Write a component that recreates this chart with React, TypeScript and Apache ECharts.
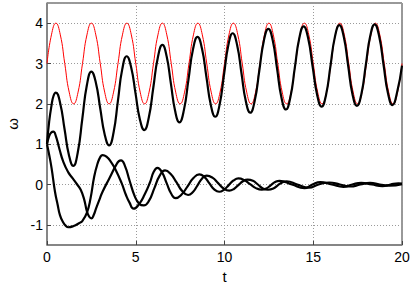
import React, { useEffect, useRef } from "react";
import * as echarts from "echarts";

// Driving signal (red), read at every 0.25 time unit from t = 0 to t = 20
const T_STEP = 0.25;
const redOmega = [
  3, 3.71, 4, 3.71, 3, 2.29, 2, 2.29,
  3, 3.71, 4, 3.71, 3, 2.29, 2, 2.29,
  3, 3.71, 4, 3.71, 3, 2.29, 2, 2.29,
  3, 3.71, 4, 3.71, 3, 2.29, 2, 2.29,
  3, 3.71, 4, 3.71, 3, 2.29, 2, 2.29,
  3, 3.71, 4, 3.71, 3, 2.29, 2, 2.29,
  3, 3.71, 4, 3.71, 3, 2.29, 2, 2.29,
  3, 3.71, 4, 3.71, 3, 2.29, 2, 2.29,
  3, 3.71, 4, 3.71, 3, 2.29, 2, 2.29,
  3, 3.71, 4, 3.71, 3, 2.29, 2, 2.29,
  3,
];

// Oscillator that locks onto the drive: [t, omega]
const lockedOmega: [number, number][] = [
  [0, 1.0], [0.12, 1.55], [0.25, 1.95], [0.37, 2.2], [0.5, 2.28],
  [0.745, 2.01], [0.99, 1.37], [1.235, 0.73], [1.48, 0.46],
  [1.735, 0.8], [1.99, 1.63], [2.245, 2.46], [2.5, 2.8],
  [2.75, 2.53], [3.0, 1.885], [3.25, 1.24], [3.5, 0.97],
  [3.75, 1.29], [3.995, 2.075], [4.24, 2.86], [4.49, 3.18],
  [4.74, 2.91], [4.985, 2.265], [5.23, 1.62], [5.48, 1.35],
  [5.735, 1.66], [5.99, 2.405], [6.245, 3.15], [6.5, 3.46],
  [6.74, 3.18], [6.98, 2.5], [7.22, 1.82], [7.46, 1.54],
  [7.715, 1.85], [7.97, 2.6], [8.225, 3.35], [8.48, 3.66],
  [8.73, 3.37], [8.98, 2.67], [9.23, 1.97], [9.48, 1.68],
  [9.725, 1.98], [9.97, 2.715], [10.215, 3.45], [10.46, 3.75],
  [10.71, 3.46], [10.955, 2.765], [11.2, 2.07], [11.45, 1.78],
  [11.705, 2.08], [11.96, 2.82], [12.215, 3.56], [12.47, 3.86],
  [12.72, 3.57], [12.965, 2.86], [13.21, 2.15], [13.46, 1.86],
  [13.71, 2.16], [13.96, 2.89], [14.21, 3.62], [14.46, 3.92],
  [14.71, 3.63], [14.965, 2.925], [15.22, 2.22], [15.47, 1.93],
  [15.72, 2.22], [15.97, 2.94], [16.22, 3.66], [16.47, 3.95],
  [16.72, 3.66], [16.965, 2.95], [17.21, 2.24], [17.46, 1.95],
  [17.71, 2.24], [17.96, 2.96], [18.21, 3.68], [18.46, 3.97],
  [18.71, 3.68], [18.96, 2.97], [19.21, 2.26], [19.46, 1.97],
  [19.73, 2.3], [20, 2.95],
];

// Decaying oscillator that first rises
const decayRising: [number, number][] = [
  [0, 1.0], [0.12, 1.2], [0.24, 1.29], [0.36, 1.31], [0.5, 1.2],
  [0.7, 0.88], [0.92, 0.56], [1.2, 0.3], [1.45, 0.15], [1.7, 0.0],
  [1.9, -0.13], [2.1, -0.38], [2.25, -0.67], [2.38, -0.8], [2.5, -0.84],
  [2.62, -0.77], [2.76, -0.6], [2.95, -0.38], [3.13, -0.18], [3.51, 0.15],
  [3.89, 0.48], [4.05, 0.58], [4.17, 0.6], [4.4, 0.45], [4.65, 0.1],
  [4.95, -0.3], [5.2, -0.48], [5.45, -0.52], [5.75, -0.4], [6.05, -0.09],
  [6.35, 0.22], [6.65, 0.35], [6.97, 0.26], [7.3, 0.05], [7.63, -0.17],
  [7.95, -0.26], [8.21, -0.19], [8.48, -0.02], [8.74, 0.15], [9.0, 0.22],
  [9.32, 0.17], [9.64, 0.035], [9.95, -0.1], [10.27, -0.15], [10.53, -0.11],
  [10.78, -0.015], [11.04, 0.08], [11.3, 0.12], [11.6, 0.09], [11.88, 0],
  [12.16, -0.1], [12.45, -0.13], [12.75, -0.1], [13.0, -0.02], [13.25, 0.05],
  [13.5, 0.08], [14.1, 0], [14.75, -0.08], [15.3, 0], [15.9, 0.05],
  [16.5, 0], [17.1, -0.05], [17.65, 0], [18.2, 0.04], [18.75, 0],
  [19.3, -0.03], [20, 0.01],
];

// Decaying oscillator that first falls
const decayFalling: [number, number][] = [
  [0, 1.0], [0.13, 0.72], [0.26, 0.4], [0.45, -0.18], [0.6, -0.5],
  [0.73, -0.76], [0.9, -0.93], [1.05, -1.02], [1.2, -1.06], [1.5, -1.03],
  [1.8, -0.96], [2.0, -0.9], [2.25, -0.7], [2.45, -0.35], [2.66, 0.2],
  [2.85, 0.52], [3.0, 0.68], [3.13, 0.73], [3.35, 0.69], [3.62, 0.55],
  [3.85, 0.38], [4.2, 0.04], [4.45, -0.26], [4.65, -0.45], [4.88, -0.6],
  [5.2, -0.48], [5.5, -0.25], [5.8, 0.05], [6.02, 0.32], [6.22, 0.41],
  [6.48, 0.3], [6.74, 0.035], [7.0, -0.23], [7.25, -0.34], [7.58, -0.25],
  [7.92, -0.045], [8.25, 0.16], [8.58, 0.25], [8.86, 0.19], [9.14, 0.035],
  [9.42, -0.12], [9.7, -0.18], [9.97, -0.13], [10.24, -0.015], [10.51, 0.1],
  [10.78, 0.15], [11.11, 0.11], [11.44, 0.01], [11.77, -0.09], [12.1, -0.13],
  [12.35, -0.1], [12.6, -0.02], [12.85, 0.06], [13.1, 0.09], [13.8, 0],
  [14.5, -0.09], [14.95, 0], [15.4, 0.06], [16.05, 0], [16.7, -0.06],
  [17.2, 0], [17.7, 0.04], [18.3, 0], [18.9, -0.04], [19.35, 0],
  [19.8, 0.03], [20, 0.02],
];

const X_MIN = 0;
const X_MAX = 20;
const X_INTERVAL = 5;
const Y_MIN = -1.5;
const Y_MAX = 4.5;

export default function App() {
  const ref = useRef<HTMLDivElement>(null);

  useEffect(() => {
    if (!ref.current) return;
    const chart = echarts.init(ref.current, null, { renderer: "svg" });
    const font = "'Liberation Sans', Arial, Helvetica, sans-serif";
    const gridLine = { show: true, lineStyle: { color: "#9a9a9a", type: [1, 2], width: 1 } };
    const redData = redOmega.map((w, i) => [i * T_STEP, w]);
    const blackLine = { color: "#000", width: 2.2 };

    chart.setOption({
      animation: false,
      backgroundColor: "#ffffff",
      textStyle: { fontFamily: font },
      grid: {
        left: 47,
        top: 3,
        width: 355,
        height: 242,
        containLabel: false,
        outerBoundsMode: "none",
        show: true,
        borderColor: "#333",
        borderWidth: 1,
        backgroundColor: "transparent",
      },
      xAxis: [
        {
          type: "value",
          min: X_MIN,
          max: X_MAX,
          interval: X_INTERVAL,
          position: "bottom",
          axisLine: { show: true, onZero: false, lineStyle: { color: "#808080", width: 1.5 } },
          axisTick: { show: true, inside: true, length: 4, lineStyle: { color: "#444" } },
          axisLabel: { color: "#000", fontSize: 14, margin: 5, fontFamily: font },
          splitLine: gridLine,
          name: "t",
          nameLocation: "middle",
          nameGap: 20,
          nameTextStyle: { color: "#000", fontSize: 15, fontFamily: font },
        },
      ],
      yAxis: [
        {
          type: "value",
          min: Y_MIN,
          max: Y_MAX,
          splitNumber: 6,
          axisLine: { show: true, onZero: false, lineStyle: { color: "#808080", width: 1.5 } },
          axisTick: { show: true, inside: true, length: 4, lineStyle: { color: "#444" } },
          axisLabel: {
            color: "#000",
            fontSize: 14,
            margin: 4,
            fontFamily: font,
            showMinLabel: false,
            showMaxLabel: false,
            formatter: (v: number) => (Number.isInteger(v) ? String(v) : ""),
          },
          splitLine: gridLine,
          name: "ω",
          nameLocation: "middle",
          nameGap: 27,
          nameTextStyle: { color: "#000", fontSize: 15, fontFamily: font },
        },
      ],
      series: [
        {
          type: "line",
          data: redData,
          showSymbol: false,
          smooth: true,
          lineStyle: { color: "#ff0000", width: 1 },
          z: 2,
        },
        {
          type: "line",
          data: lockedOmega,
          showSymbol: false,
          smooth: true,
          lineStyle: blackLine,
          z: 3,
        },
        {
          type: "line",
          data: decayRising,
          showSymbol: false,
          smooth: true,
          lineStyle: blackLine,
          z: 3,
        },
        {
          type: "line",
          data: decayFalling,
          showSymbol: false,
          smooth: true,
          lineStyle: blackLine,
          z: 3,
        },
      ],
    });
    return () => chart.dispose();
  }, []);

  return (
    <div
      ref={ref}
      style={{ position: "fixed", left: 0, top: 0, width: 415, height: 285 }}
    />
  );
}
